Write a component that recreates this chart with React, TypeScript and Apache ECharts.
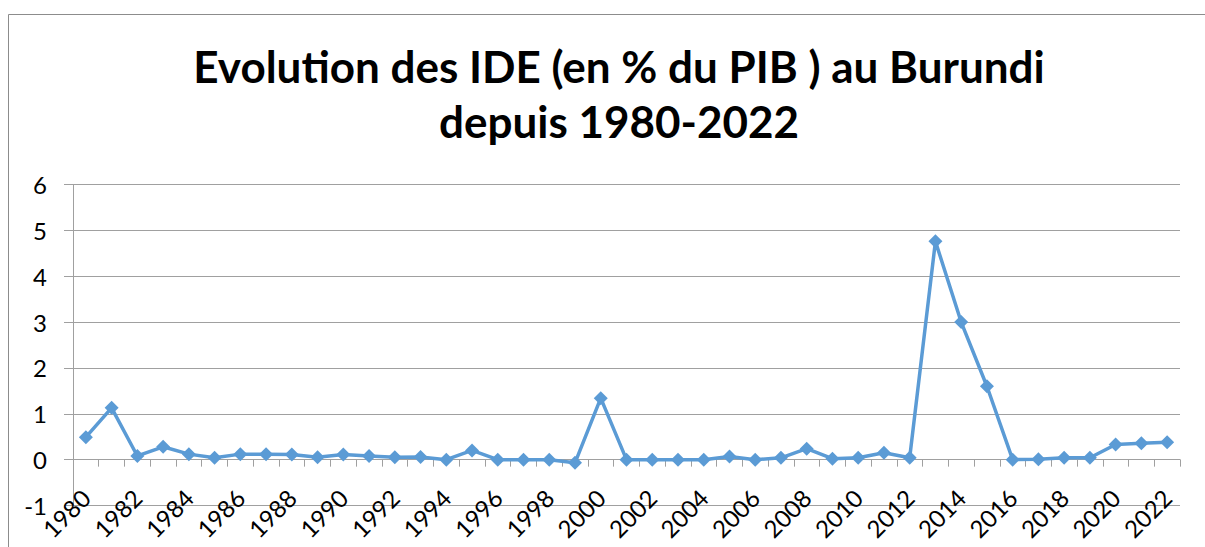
import React, { useEffect, useRef } from "react";
import * as echarts from "echarts";

const years: string[] = [
  "1980","1981","1982","1983","1984","1985","1986","1987","1988","1989",
  "1990","1991","1992","1993","1994","1995","1996","1997","1998","1999",
  "2000","2001","2002","2003","2004","2005","2006","2007","2008","2009",
  "2010","2011","2012","2013","2014","2015","2016","2017","2018","2019",
  "2020","2021","2022",
];

const ideValues: number[] = [
  0.49, 1.13, 0.08, 0.28, 0.12, 0.04, 0.12, 0.12, 0.11, 0.05,
  0.11, 0.08, 0.05, 0.06, 0.0, 0.2, 0.0, 0.0, 0.0, -0.07,
  1.34, 0.0, 0.0, 0.0, 0.0, 0.07, 0.0, 0.04, 0.24, 0.02,
  0.04, 0.15, 0.04, 4.76, 3.0, 1.6, 0.0, 0.01, 0.04, 0.04,
  0.33, 0.36, 0.38,
];

const titleLines: string[] = [
  "Evolution des IDE (en % du PIB ) au Burundi",
  "depuis 1980-2022",
];

const FONT = "Lato, 'Open Sans', sans-serif";
const GRAY = "#a0a0a0";

export default function App() {
  const ref = useRef<HTMLDivElement>(null);

  useEffect(() => {
    if (!ref.current) return;
    const chart = echarts.init(ref.current, undefined, { renderer: "svg" });
    chart.setOption({
      animation: false,
      backgroundColor: "#ffffff",
      graphic: [
        {
          type: "rect",
          shape: { x: 8.5, y: 14.5, width: 1400, height: 700 },
          style: { fill: "none", stroke: "#8c8c8c", lineWidth: 1 },
          silent: true,
          z: -10,
        },
      ],
      title: {
        text: titleLines.join("\n"),
        left: 614,
        top: 33,
        textAlign: "center",
        textStyle: {
          fontFamily: FONT,
          fontWeight: "bold",
          fontSize: 44,
          lineHeight: 55,
          color: "#000000",
        },
      },
      grid: { left: 73, top: 184.5, right: 25, bottom: 41.5, containLabel: false },
      xAxis: [
        {
          type: "category",
          data: years,
          position: "bottom",
          boundaryGap: true,
          axisLine: { show: true, onZero: true, lineStyle: { color: GRAY, width: 1 } },
          axisTick: { show: true, interval: 0, length: 7, lineStyle: { color: GRAY } },
          axisLabel: { show: false },
          splitLine: { show: false },
        },
        {
          type: "category",
          data: years,
          position: "bottom",
          boundaryGap: true,
          axisLine: { show: false, onZero: false },
          axisTick: { show: false },
          axisLabel: {
            show: true,
            interval: 1,
            rotate: 45,
            margin: -12,
            hideOverlap: false,
            fontFamily: FONT,
            fontSize: 24,
            color: "#000000",
          },
          splitLine: { show: false },
        },
      ],
      yAxis: {
        type: "value",
        min: -1,
        max: 6,
        interval: 1,
        axisLine: { show: true, lineStyle: { color: GRAY, width: 1 } },
        axisTick: { show: true, length: 9, lineStyle: { color: GRAY } },
        axisLabel: {
          margin: 26,
          fontFamily: FONT,
          fontSize: 24,
          color: "#000000",
        },
        splitLine: { show: true, lineStyle: { color: GRAY, width: 1 } },
      },
      series: [
        {
          type: "line",
          data: ideValues,
          xAxisIndex: 0,
          symbol: "diamond",
          symbolSize: 14,
          showSymbol: true,
          lineStyle: { color: "#5B9BD5", width: 3.5 },
          itemStyle: { color: "#5B9BD5" },
        },
      ],
    });
    return () => chart.dispose();
  }, []);

  return (
    <div
      ref={ref}
      style={{ position: "fixed", left: 0, top: 0, width: 1205, height: 547 }}
    />
  );
}
